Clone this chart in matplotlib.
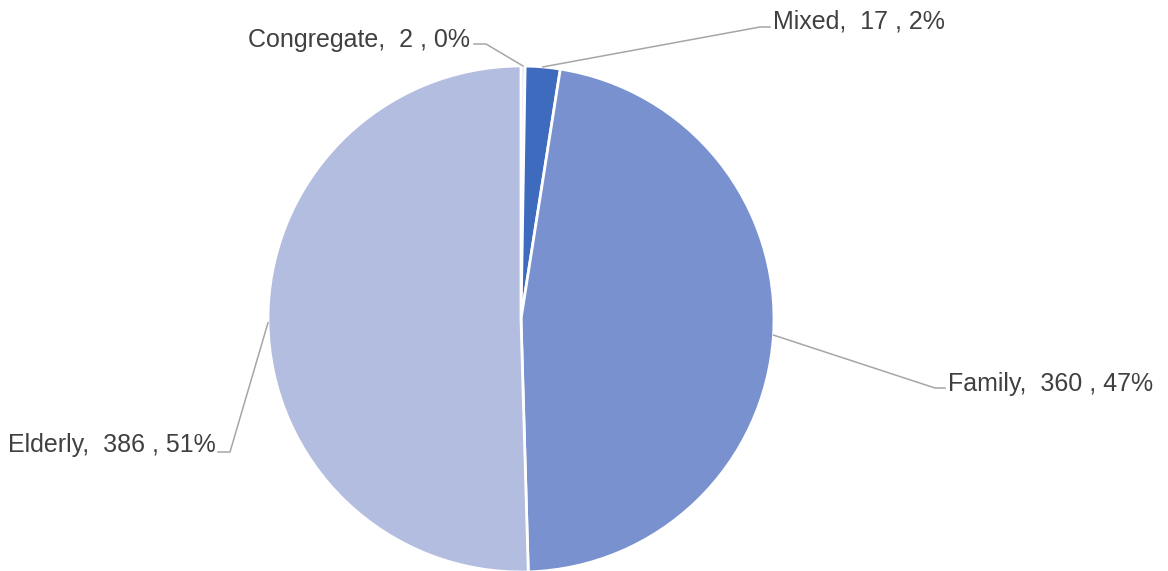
import numpy as np
import matplotlib.pyplot as plt

plt.rcParams['font.family'] = ['Liberation Sans', 'DejaVu Sans']

# data, clockwise from 12 o'clock
categories = ['Congregate', 'Mixed', 'Family', 'Elderly']
counts = [2, 17, 360, 386]
percent_labels = ['0%', '2%', '47%', '51%']  # as printed on the chart
colors = ['#D5DBEF', '#3E6BBE', '#7A91D0', '#B3BDDF']

# label anchor (text position) and leader elbow, in pixels of the 1168x571 image
label_pos = [(470, 40, 'right'), (773, 22, 'left'), (948, 384, 'left'), (216, 445, 'right')]
elbow_pos = [(486, 44), (760, 27), (935, 388), (230, 452)]

W, H = 1168, 571
cx, cy, R = 521, 319, 253


def to_data(px, py):
    return (px - cx) / R, (cy - py) / R


fig = plt.figure(figsize=(W / 100, H / 100), dpi=100)
ax = fig.add_axes([0, 0, 1, 1])
wedges, _ = ax.pie(counts, colors=colors, startangle=90, counterclock=False,
                   radius=1, wedgeprops=dict(edgecolor='white', linewidth=2))
ax.set_xlim(-cx / R, (W - cx) / R)
ax.set_ylim(-(H - cy) / R, cy / R)
ax.set_aspect('equal')
ax.axis('off')

for w, cat, n, pct, (lx, ly, ha), (ex, ey) in zip(wedges, categories, counts, percent_labels,
                                                   label_pos, elbow_pos):
    mid = np.deg2rad((w.theta1 + w.theta2) / 2)
    sx, sy = np.cos(mid), np.sin(mid)
    exd, eyd = to_data(ex, ey)
    # horizontal stub toward the label
    stub = to_data(ex + (10 if ha == 'left' else -12), ey)
    ax.plot([sx, exd, stub[0]], [sy, eyd, stub[1]], color='#A6A6A6', lw=1.1)
    tx, ty = to_data(lx, ly)
    ax.text(tx, ty, f'{cat},  {n} , {pct}', ha=ha, va='center',
            fontsize=18, color='#404040')

fig.savefig('out.png', dpi=100)
